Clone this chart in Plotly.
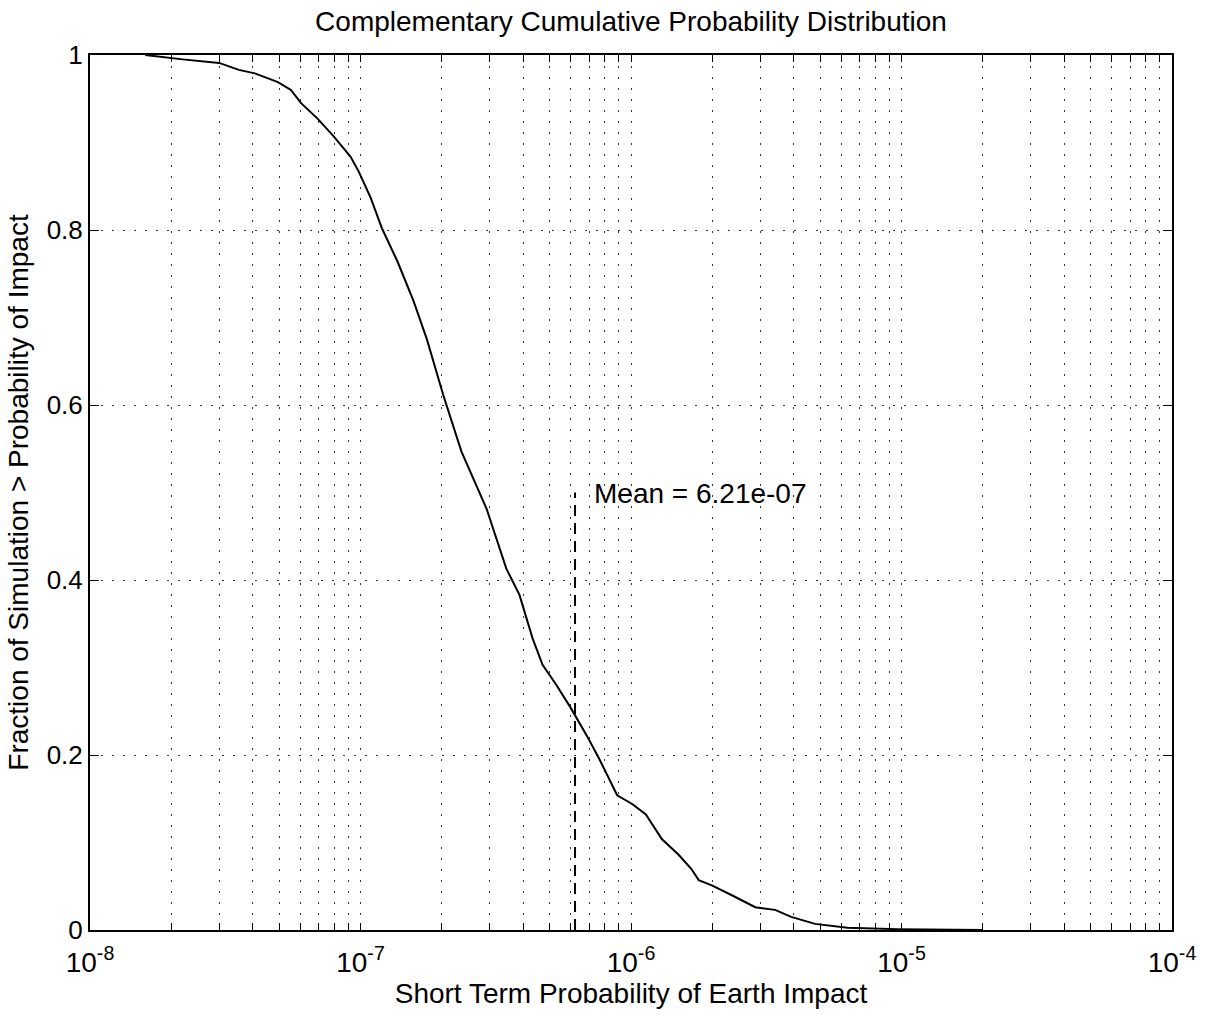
import math
import plotly.graph_objects as go

# Data
impact_prob = [1.6e-8, 2.2e-8, 3.0e-8, 3.55e-8, 4.07e-8, 4.95e-8, 5.53e-8, 6.03e-8,
               6.95e-8, 7.96e-8, 9.18e-8, 9.84e-8, 1.09e-7, 1.20e-7, 1.37e-7, 1.57e-7,
               1.76e-7, 2.02e-7, 2.36e-7, 2.92e-7, 3.46e-7, 3.87e-7, 4.33e-7, 4.71e-7,
               5.30e-7, 6.01e-7, 6.84e-7, 7.62e-7, 8.89e-7, 1.01e-6, 1.135e-6, 1.30e-6,
               1.50e-6, 1.67e-6, 1.78e-6, 1.99e-6, 2.35e-6, 2.88e-6, 3.41e-6, 3.91e-6,
               4.79e-6, 6.31e-6, 9.66e-6, 1.5e-5, 2.0e-5]
fraction = [1.000, 0.995, 0.991, 0.983, 0.979, 0.969, 0.960, 0.945,
            0.927, 0.907, 0.884, 0.867, 0.837, 0.802, 0.764, 0.719,
            0.675, 0.612, 0.547, 0.482, 0.413, 0.383, 0.333, 0.303,
            0.280, 0.253, 0.223, 0.196, 0.154, 0.144, 0.132, 0.104,
            0.086, 0.070, 0.057, 0.051, 0.040, 0.026, 0.023, 0.015,
            0.007, 0.0025, 0.001, 0.0003, 0.0]

mean_value = 6.21e-7
mean_line_y = [0.0, 0.5]
mean_label = "Mean = 6.21e-07"
mean_label_x = 7.15e-7
mean_label_y = 0.499

decades = [-8, -7, -6, -5, -4]
y_ticks = [0, 0.2, 0.4, 0.6, 0.8, 1]
y_ticktext = ["0", "0.2", "0.4", "0.6", "0.8", "1"]

# log-axis ticks: every 1..9 multiple, labels only on decades
x_tickvals, x_ticktext = [], []
for d in decades:
    for m in range(1, 10):
        if d == decades[-1] and m > 1:
            break
        x_tickvals.append(m * 10.0 ** d)
        x_ticktext.append(f"10<sup>{d}</sup>" if m == 1 else "")

font = "Liberation Sans, Arial, Helvetica, sans-serif"
grid_dash = "2px,9px"

fig = go.Figure()
fig.add_trace(go.Scatter(x=impact_prob, y=fraction, mode="lines",
                         line=dict(color="black", width=2), showlegend=False))
fig.add_trace(go.Scatter(x=[mean_value, mean_value], y=mean_line_y, mode="lines",
                         line=dict(color="black", width=2, dash="11px,7px"),
                         showlegend=False))
fig.add_annotation(x=math.log10(mean_label_x), y=mean_label_y, xref="x", yref="y",
                   text=mean_label, showarrow=False, xanchor="left", yanchor="middle",
                   font=dict(family=font, size=28, color="black"))

fig.update_layout(
    width=1217, height=1019,
    margin=dict(l=90, r=45, t=55, b=89),
    paper_bgcolor="white", plot_bgcolor="white",
    font=dict(family=font, color="black", size=26),
    title=dict(text="Complementary Cumulative Probability Distribution",
               x=0.5, xref="paper", xanchor="center", y=0.979, yanchor="middle",
               font=dict(family=font, size=28, color="black")),
)
fig.update_xaxes(
    type="log", range=[-8, -4],
    tickmode="array", tickvals=x_tickvals, ticktext=x_ticktext,
    ticks="inside", ticklen=7, tickcolor="black", tickwidth=1,
    showgrid=True, gridcolor="#333", gridwidth=1, griddash=grid_dash,
    showline=True, linecolor="black", linewidth=2, mirror="ticks",
    tickfont=dict(family=font, size=28, color="black"),
    ticklabelstandoff=6,
    title=dict(text="Short Term Probability of Earth Impact", standoff=2,
               font=dict(family=font, size=28, color="black")),
    zeroline=False,
)
fig.update_yaxes(
    range=[0, 1],
    tickmode="array", tickvals=y_ticks, ticktext=y_ticktext,
    ticks="inside", ticklen=9, tickcolor="black", tickwidth=1,
    showgrid=True, gridcolor="#333", gridwidth=1, griddash=grid_dash,
    showline=True, linecolor="black", linewidth=2, mirror="ticks",
    tickfont=dict(family=font, size=26, color="black"),
    title=dict(text="Fraction of Simulation > Probability of Impact", standoff=10,
               font=dict(family=font, size=28, color="black")),
    zeroline=False,
)

fig.write_html("out.html")
